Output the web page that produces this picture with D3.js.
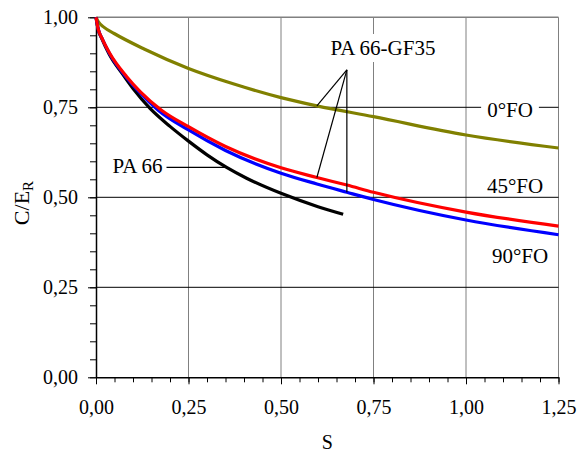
<!DOCTYPE html>
<html><head><meta charset="utf-8">
<script src="https://cdn.jsdelivr.net/npm/d3@7"></script>
<style>
body{margin:0;background:#fff;}
svg text{font-family:"Liberation Serif",Tinos,"Times New Roman",Times,"DejaVu Serif",serif !important;}
</style></head>
<body><svg id="c" width="577" height="455"></svg>
<script>
// ---- data ----
const xTicks = [0, 0.25, 0.5, 0.75, 1.0, 1.25];
const yTicks = [0, 0.25, 0.5, 0.75, 1.0];
const sBlack = [0, 0.006, 0.016, 0.035, 0.072, 0.1, 0.146, 0.2, 0.25, 0.3, 0.353, 0.407, 0.5, 0.6, 0.668];
const vBlack = [1, 0.966, 0.940, 0.899, 0.842, 0.802, 0.747, 0.697, 0.656, 0.618, 0.583, 0.553, 0.511, 0.474, 0.453];
const sRed = [0, 0.006, 0.016, 0.037, 0.083, 0.12, 0.177, 0.25, 0.35, 0.5, 0.597, 0.678, 0.75, 1.0, 1.25];
const vRed = [1, 0.967, 0.942, 0.900, 0.835, 0.793, 0.742, 0.696, 0.641, 0.582, 0.555, 0.534, 0.514, 0.459, 0.420];
const sBlue = [0, 0.006, 0.016, 0.036, 0.083, 0.12, 0.168, 0.25, 0.35, 0.5, 0.597, 0.678, 0.75, 1.0, 1.25];
const vBlue = [1, 0.967, 0.942, 0.900, 0.832, 0.789, 0.742, 0.687, 0.630, 0.567, 0.537, 0.514, 0.494, 0.437, 0.396];
const sOlive = [0, 0.006, 0.022, 0.049, 0.13, 0.25, 0.375, 0.5, 0.597, 0.75, 1.0, 1.25];
const vOlive = [1, 0.988, 0.972, 0.955, 0.912, 0.858, 0.814, 0.777, 0.754, 0.724, 0.673, 0.637];
const seriesNames = ["PA 66", "0°FO", "45°FO", "90°FO"];
const groupName = "PA 66-GF35";
// annotation anchors (data units)
const gfApex = [0.678, 0.854];
const gfTargets = [[0.597, 0.754], [0.597, 0.555], [0.678, 0.514]];
const pa66Target = [0.353, 0.583];

const svg = d3.select("#c");
const x = d3.scaleLinear().domain([0, 1.25]).range([96, 558.5]);
const y = d3.scaleLinear().domain([0, 1]).range([377.3, 17.3]);
const fmt = v => d3.format(".2f")(v).replace(".", ",");

// grid
const g = svg.append("g");
g.selectAll(".vg").data(xTicks.slice(1)).join("line")
  .attr("x1", d => x(d)).attr("x2", d => x(d)).attr("y1", y(0)).attr("y2", y(1))
  .attr("stroke", "#808080").attr("stroke-width", 1);
g.selectAll(".hg").data(yTicks.slice(1, 4)).join("line")
  .attr("x1", x(0)).attr("x2", x(1.25)).attr("y1", d => y(d)).attr("y2", d => y(d))
  .attr("stroke", "#000").attr("stroke-width", 1);
g.append("line").attr("x1", x(0)).attr("x2", x(1.25)).attr("y1", y(1)).attr("y2", y(1))
  .attr("stroke", "#808080").attr("stroke-width", 1.5);

// minor ticks
const minor = d3.range(0, 1.2501, 0.05);
svg.append("g").attr("transform", `translate(0,${y(0)})`)
  .call(d3.axisBottom(x).tickValues(minor).tickSize(5).tickFormat(""))
  .call(a => a.select(".domain").remove());
svg.append("g").attr("transform", `translate(${x(0)},0)`)
  .call(d3.axisLeft(y).tickValues(d3.range(0, 1.0001, 0.05)).tickSize(6).tickFormat(""))
  .call(a => a.select(".domain").remove());

// axes
const xa = svg.append("g").attr("transform", `translate(0,${y(0)})`)
  .call(d3.axisBottom(x).tickValues(xTicks).tickSize(7).tickSizeOuter(0).tickPadding(16).tickFormat(fmt));
xa.attr("font-family", null);
xa.selectAll("text").attr("font-size", 20).attr("fill", "#000");
xa.select(".domain").attr("stroke-width", 1.5);
const ya = svg.append("g").attr("transform", `translate(${x(0)},0)`)
  .call(d3.axisLeft(y).tickValues(yTicks).tickSize(8).tickSizeOuter(0).tickPadding(10).tickFormat(fmt));
ya.attr("font-family", null);
ya.selectAll("text").attr("font-size", 20).attr("fill", "#000");
ya.select(".domain").attr("stroke-width", 1.5);

// curves
const line = d3.line().x(d => x(d[0])).y(d => y(d[1])).curve(d3.curveMonotoneX);
const zip = (a, b) => a.map((v, i) => [v, b[i]]);
const curves = [
  {d: zip(sOlive, vOlive), c: "#808000"},
  {d: zip(sBlack, vBlack), c: "#000000"},
  {d: zip(sBlue, vBlue), c: "#0000ff"},
  {d: zip(sRed, vRed), c: "#ff0000"}
];
svg.selectAll(".curve").data(curves).join("path")
  .attr("d", d => line(d.d)).attr("fill", "none").attr("stroke", d => d.c).attr("stroke-width", 3.2);

// labels with white background
function label(txt, px, py, anchor, bg) {
  const t = svg.append("text").attr("x", px).attr("y", py).attr("font-size", 21)
    .attr("text-anchor", anchor).text(txt);
  if (bg) {
    const b = t.node().getBBox();
    svg.insert("rect", () => t.node()).attr("x", b.x - bg[0]).attr("y", b.y - bg[1])
      .attr("width", b.width + 2 * bg[0]).attr("height", b.height + 2 * bg[1]).attr("fill", "#fff");
  }
  return t;
}
label(groupName, 383, 55, "middle", [4, 2]);
label(seriesNames[1], 510, 117, "middle", [6, 0]);
label(seriesNames[2], 515, 193, "middle", null);
label(seriesNames[3], 520, 263, "middle", null);
label(seriesNames[0], 137.5, 173, "middle", null);

// leader lines
gfTargets.forEach(t => {
  svg.append("line").attr("x1", x(gfApex[0])).attr("y1", y(gfApex[1]))
    .attr("x2", x(t[0])).attr("y2", y(t[1])).attr("stroke", "#000").attr("stroke-width", 1.2);
});
svg.append("line").attr("x1", 166.5).attr("y1", y(pa66Target[1]))
  .attr("x2", x(pa66Target[0])).attr("y2", y(pa66Target[1])).attr("stroke", "#000").attr("stroke-width", 1.2);

// axis titles
svg.append("text").attr("x", x(0.625)).attr("y", 449).attr("text-anchor", "middle").attr("font-size", 20).text("S");
const yt = svg.append("text").attr("transform", "translate(29,203) rotate(-90)")
  .attr("text-anchor", "middle").attr("font-size", 22);
yt.append("tspan").text("C/E");
yt.append("tspan").attr("font-size", 15).attr("dy", 4).text("R");
</script></body></html>
